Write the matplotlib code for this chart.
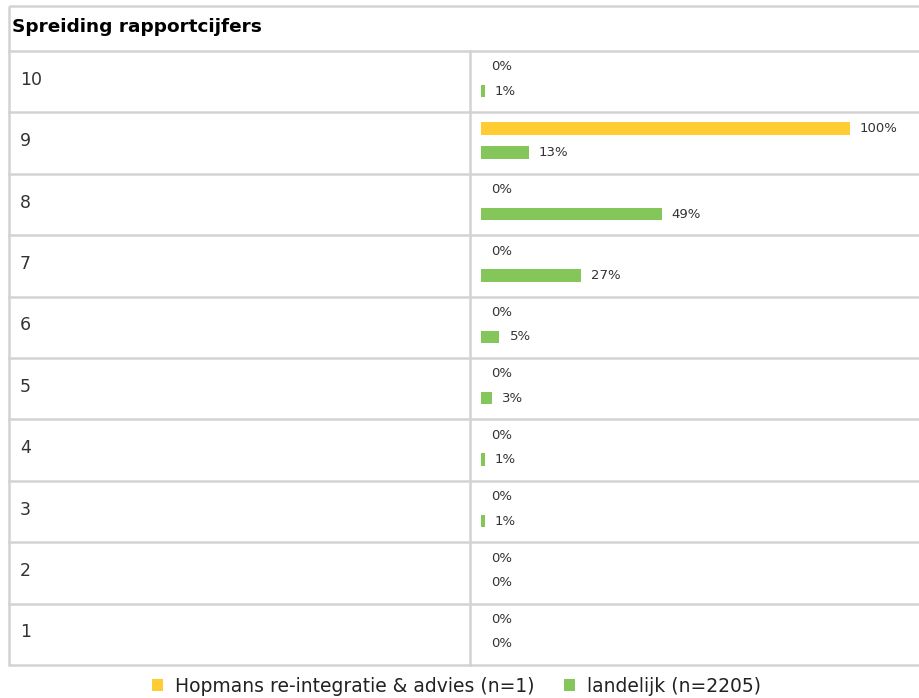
import matplotlib
matplotlib.use("Agg")
import matplotlib.pyplot as plt
from matplotlib.patches import Rectangle

# data
grades = ["10", "9", "8", "7", "6", "5", "4", "3", "2", "1"]
hopmans = [0, 100, 0, 0, 0, 0, 0, 0, 0, 0]
landelijk = [1, 13, 49, 27, 5, 3, 1, 1, 0, 0]
title = "Spreiding rapportcijfers"
series_names = ["Hopmans re-integratie & advies (n=1)", "landelijk (n=2205)"]

YELLOW = "#FFCC33"
GREEN = "#85C65A"
LINE = "#D2D2D2"
TXT = "#333333"

W, H = 920, 698
fig = plt.figure(figsize=(W / 100, H / 100), dpi=100)

# background axes in pixel coordinates for the table frame
bg = fig.add_axes([0, 0, 1, 1])
bg.set_xlim(0, W)
bg.set_ylim(H, 0)
bg.axis("off")

left, right, top, head_bot, bot = 9, W + 5, 6, 51, 665
col = 470
row_h = (bot - head_bot) / len(grades)
lw = 1.8
bg.add_patch(Rectangle((left, top), right - left, bot - top, fill=False,
                       ec=LINE, lw=lw))
bg.plot([left, right], [head_bot, head_bot], color=LINE, lw=lw)
for i in range(1, len(grades)):
    y = head_bot + i * row_h
    bg.plot([left, right], [y, y], color=LINE, lw=lw)
bg.plot([col, col], [head_bot, bot], color=LINE, lw=lw)

bg.text(12, 27, title, fontsize=13.3, fontweight="bold", color="black",
        va="center", ha="left")
for i, g in enumerate(grades):
    bg.text(20, head_bot + (i + 0.47) * row_h, g, fontsize=12.5, color=TXT,
            va="center", ha="left")

# bar axes: x 0..100 maps to pixel 481..850, rows in row units
x0, x1 = 481, 850
ax = fig.add_axes([x0 / W, 1 - bot / H, (x1 - x0) / W, (bot - head_bot) / H])
ax.set_xlim(0, 100)
ax.set_ylim(len(grades), 0)
ax.axis("off")
ax.patch.set_alpha(0)

pos = list(range(len(grades)))
yel_y = [p + 0.26 for p in pos]
grn_y = [p + 0.655 for p in pos]
bh = 0.2
ax.barh(yel_y, hopmans, height=bh, color=YELLOW, label=series_names[0])
ax.barh(grn_y, landelijk, height=bh, color=GREEN, label=series_names[1])

off = 100 * 10 / (x1 - x0)
for yy, v in zip(yel_y, hopmans):
    ax.text(v + off, yy, f"{v}%", fontsize=9.5, color=TXT, va="center",
            ha="left", clip_on=False)
for yy, v in zip(grn_y, landelijk):
    ax.text(v + off, yy, f"{v}%", fontsize=9.5, color=TXT, va="center",
            ha="left", clip_on=False)

fig.legend(loc="lower center", bbox_to_anchor=(0.496, -0.021), ncol=2,
           frameon=False, fontsize=13.5, handlelength=0.6, handleheight=0.6,
           handletextpad=0.6, columnspacing=1.6, labelcolor="#222222")

fig.savefig("out.png", dpi=100)
